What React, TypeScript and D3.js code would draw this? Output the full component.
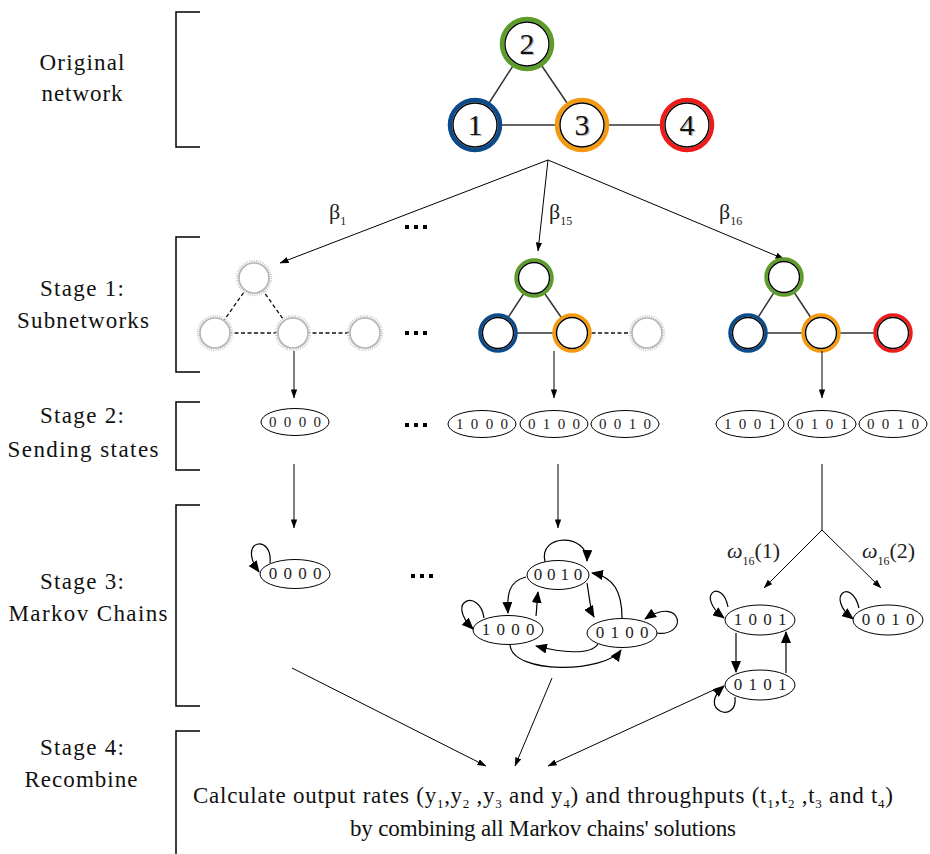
import React from "react";
import * as d3 from "d3";

const FONT = "Liberation Serif";

// ---- data ----
const nodeLabels = ["1", "2", "3", "4"];
const nodeColors = ["#0d4a8a", "#5c9c28", "#f59a10", "#ee1b1b"];
const networkEdges: [number, number][] = [[0, 1], [1, 2], [0, 2], [2, 3]];
const stageLabels = [
  ["Original", "network"],
  ["Stage 1:", "Subnetworks"],
  ["Stage 2:", "Sending states"],
  ["Stage 3:", "Markov Chains"],
  ["Stage 4:", "Recombine"],
];
const betaLabels = ["1", "15", "16"];
const subnetActive = [
  [false, false, false, false],
  [true, true, true, false],
  [true, true, true, true],
];
const sendingStates = [["0 0 0 0"], ["1 0 0 0", "0 1 0 0", "0 0 1 0"], ["1 0 0 1", "0 1 0 1", "0 0 1 0"]];
const chainLeft = ["0 0 0 0"];
const chainMid = ["0 0 1 0", "1 0 0 0", "0 1 0 0"];
const chainRight = ["1 0 0 1", "0 1 0 1", "0 0 1 0"];

// ---- layout ----
const bracketSpans: [number, number, boolean][] = [
  [12, 147, true], [237, 372, true], [402, 470, true], [505, 706, true], [731, 860, false],
];
const labelY = [[70, 101], [296, 328], [423, 457], [589, 621], [755, 787]];
const labelX = [[82, 82], [82, 83], [82, 83], [82, 88], [82, 81]];
const labelW = [[85, 81], [84, 132], [84, 151], [84, 159], [84, 113]];
const topPos = [[475, 125], [527, 44], [582, 125], [687, 125]];
const subnetPos = [
  [[215, 333], [254, 278], [293, 333], [365, 333]],
  [[498, 333], [534, 278], [572, 333], [647, 333]],
  [[748, 333], [784, 277], [821, 333], [893, 333]],
];
const sendPos = [[[295, 422]], [[482, 424], [554, 424], [625, 424]], [[750, 424], [822, 424], [893, 424]]];
const leftChainPos = [[295, 574]];
const midChainPos = [[558, 575], [508, 630], [622, 633]];
const rightChainPos = [[760, 620], [760, 685], [888, 620]];

const markovPaths = [
  "M270,563 C273,533 236,540 259,572",
  "M545,562 C538,533 588,533 587,561",
  "M526,577 C508,581 507,596 508,613",
  "M536,616 C537,607 537,600 538,592",
  "M587,583 C590,600 590,610 594,617",
  "M622,618 C622,592 614,577 592,573",
  "M655,633 C690,638 682,594 645,619",
  "M484,618 C480,588 444,600 473,629",
  "M598,644 C590,656 560,652 536,646",
  "M510,645 C513,675 605,673 621,650",
  "M728,607 C722,577 694,595 724,618",
  "M736,633 L736,672",
  "M786,673 L786,632",
  "M735,697 C738,725 696,710 724,686",
  "M859,608 C852,577 824,596 853,619",
];

const line = d3.line();

function Node({ x, y, r, color, label, big }: any) {
  return (
    <g>
      <circle cx={x} cy={y} r={r} fill="#fff" stroke={color} strokeWidth={big ? 4.5 : 3.5} />
      <circle cx={x} cy={y} r={r - (big ? 3 : 2.5)} fill="#fff" stroke="#000" strokeWidth={1.4} />
      {label && (
        <>
          <text x={x + 1.2} y={y + 10.5} textAnchor="middle" fontSize={30} fill="#bbb" fontFamily={FONT}>{label}</text>
          <text x={x} y={y + 9.5} textAnchor="middle" fontSize={30} fill="#111" fontFamily={FONT}>{label}</text>
        </>
      )}
    </g>
  );
}

function GreyNode({ x, y, r }: any) {
  return (
    <g>
      <circle cx={x} cy={y} r={r + 0.5} fill="#fff" stroke="#cfcfcf" strokeWidth={3.5} strokeDasharray="1 1.2" />
      <circle cx={x} cy={y} r={r - 1} fill="#fff" stroke="#b5b5b5" strokeWidth={1.6} />
    </g>
  );
}

function State({ x, y, label, rx = 34, ry = 14, fs = 15, ls = 1 }: any) {
  return (
    <g>
      <ellipse cx={x} cy={y} rx={rx} ry={ry} fill="#fff" stroke="#000" strokeWidth={1} />
      <text x={x + ls / 2} y={y + 5} textAnchor="middle" fontSize={fs} fontFamily={FONT} fill="#222" letterSpacing={ls}>{label}</text>
    </g>
  );
}

function Dots({ x, y }: any) {
  return (
    <g>
      {[0, 1, 2].map((i) => (
        <rect key={i} x={x + i * 9} y={y} width={4} height={4} fill="#000" />
      ))}
    </g>
  );
}

const sub = (t: string) => <tspan fontSize={13} dy={5}>{t}</tspan>;

export default function App() {
  return (
    <svg width={930} height={854} style={{ position: "absolute", left: 0, top: 0, background: "#fff" }}>
      <defs>
        <marker id="aBig" viewBox="0 0 12 10" refX={11} refY={5} markerWidth={12} markerHeight={10} markerUnits="userSpaceOnUse" orient="auto">
          <path d="M0,0 L12,5 L0,10 Z" fill="#000" />
        </marker>
        <marker id="aSmall" viewBox="0 0 10 7" refX={9.5} refY={3.5} markerWidth={9} markerHeight={6.5} markerUnits="userSpaceOnUse" orient="auto">
          <path d="M0,0 L10,3.5 L0,7 Z" fill="#000" />
        </marker>
      </defs>
      <rect width={930} height={854} fill="#fff" />

      {bracketSpans.map(([y1, y2, bottom], i) => (
        <path key={i} d={`M200,${y1} H176 V${y2}` + (bottom ? ` H200` : "")} stroke="#000" strokeWidth={1.5} fill="none" />
      ))}
      {stageLabels.map((lines, i) =>
        lines.map((t, j) => (
          <text key={i + "-" + j} x={labelX[i][j] - labelW[i][j] / 2} y={labelY[i][j]} fontSize={23} fontFamily={FONT} fill="#111" textLength={labelW[i][j]} lengthAdjust="spacing">{t}</text>
        ))
      )}

      {networkEdges.map(([a, b], i) => (
        <path key={i} d={line([topPos[a] as [number, number], topPos[b] as [number, number]])!} stroke="#333" strokeWidth={1.5} />
      ))}
      {nodeLabels.map((l, i) => (
        <Node key={i} x={topPos[i][0]} y={topPos[i][1]} r={25} color={nodeColors[i]} label={l} big />
      ))}

      {[[280, 263], [538, 251], [784, 259]].map(([x, y], i) => (
        <path key={i} d={`M548,160 L${x},${y}`} stroke="#000" strokeWidth={1} markerEnd="url(#aSmall)" />
      ))}
      {betaLabels.map((b, i) => {
        const x = [329, 549, 719][i];
        return (
          <text key={i} x={x} y={219} fontSize={22} fontFamily={FONT} fill="#222">
            β<tspan fontSize={12} dy={6}>{b}</tspan>
          </text>
        );
      })}
      <Dots x={405} y={225} />

      {subnetPos.map((pos, s) => (
        <g key={s}>
          {networkEdges.map(([a, b], i) => {
            const act = subnetActive[s][a] && subnetActive[s][b];
            return (
              <path key={i} d={line([pos[a] as [number, number], pos[b] as [number, number]])!} stroke={act ? "#333" : "#111"} strokeWidth={act ? 1.5 : 1.3} strokeDasharray={act ? undefined : "4 2.5"} />
            );
          })}
          {pos.map(([x, y], i) =>
            subnetActive[s][i] ? <Node key={i} x={x} y={y} r={18} color={nodeColors[i]} /> : <GreyNode key={i} x={x} y={y} r={16} />
          )}
        </g>
      ))}
      <Dots x={405} y={331} />

      {[294, 554, 822].map((x, i) => (
        <path key={i} d={`M${x},351 L${x},398`} stroke="#000" strokeWidth={1} markerEnd="url(#aSmall)" />
      ))}

      {sendingStates.map((grp, g) =>
        grp.map((s, i) => <State key={g + "-" + i} x={sendPos[g][i][0]} y={sendPos[g][i][1]} label={s} rx={34} ry={13.5} fs={15} ls={1.8} />)
      )}
      <Dots x={405} y={423} />

      <path d="M294,464 L294,528" stroke="#000" strokeWidth={1} markerEnd="url(#aSmall)" />
      <path d="M558,464 L558,528" stroke="#000" strokeWidth={1} markerEnd="url(#aSmall)" />
      <path d="M822,464 L822,530" stroke="#000" strokeWidth={1} />
      <path d="M822,530 L764,588" stroke="#000" strokeWidth={1} markerEnd="url(#aSmall)" />
      <path d="M822,530 L881,588" stroke="#000" strokeWidth={1} markerEnd="url(#aSmall)" />
      <text x={727} y={558} fontSize={22} fontFamily={FONT} fill="#222"><tspan fontStyle="italic">ω</tspan><tspan fontSize={12} dy={7}>16</tspan><tspan dy={-7}>(1)</tspan></text>
      <text x={862} y={558} fontSize={22} fontFamily={FONT} fill="#222"><tspan fontStyle="italic">ω</tspan><tspan fontSize={12} dy={7}>16</tspan><tspan dy={-7}>(2)</tspan></text>

      {markovPaths.map((d, i) => (
        <path key={i} d={d} fill="none" stroke="#000" strokeWidth={1.2} markerEnd="url(#aBig)" />
      ))}
      {chainLeft.map((s, i) => <State key={"l" + i} x={leftChainPos[i][0]} y={leftChainPos[i][1]} label={s} rx={35} ry={14.5} fs={17} ls={1} />)}
      {chainMid.map((s, i) => <State key={"m" + i} x={midChainPos[i][0]} y={midChainPos[i][1]} label={s} rx={i === 0 ? 31 : 35} ry={14.5} fs={17} ls={i === 0 ? 0.3 : 1} />)}
      {chainRight.map((s, i) => <State key={"r" + i} x={rightChainPos[i][0]} y={rightChainPos[i][1]} label={s} rx={35} ry={15} fs={17} ls={1} />)}
      <Dots x={411} y={574} />

      <path d="M292,668 L486,766" stroke="#000" strokeWidth={1} markerEnd="url(#aSmall)" />
      <path d="M552,678 L515,766" stroke="#000" strokeWidth={1} markerEnd="url(#aSmall)" />
      <path d="M718,688 L548,766" stroke="#000" strokeWidth={1} markerEnd="url(#aSmall)" />

      <text x={193} y={803} fontSize={23} fontFamily={FONT} fill="#111" textLength={700} lengthAdjust="spacing">
        Calculate output rates (y{sub("1")}<tspan dy={-5}>,y</tspan>{sub("2")}<tspan dy={-5}> ,y</tspan>{sub("3")}<tspan dy={-5}> and y</tspan>{sub("4")}<tspan dy={-5}>) and throughputs (t</tspan>{sub("1")}<tspan dy={-5}>,t</tspan>{sub("2")}<tspan dy={-5}> ,t</tspan>{sub("3")}<tspan dy={-5}> and t</tspan>{sub("4")}<tspan dy={-5}>)</tspan>
      </text>
      <text x={350} y={836} fontSize={23} fontFamily={FONT} fill="#111" textLength={386} lengthAdjust="spacing">by combining all Markov chains' solutions</text>
    </svg>
  );
}
